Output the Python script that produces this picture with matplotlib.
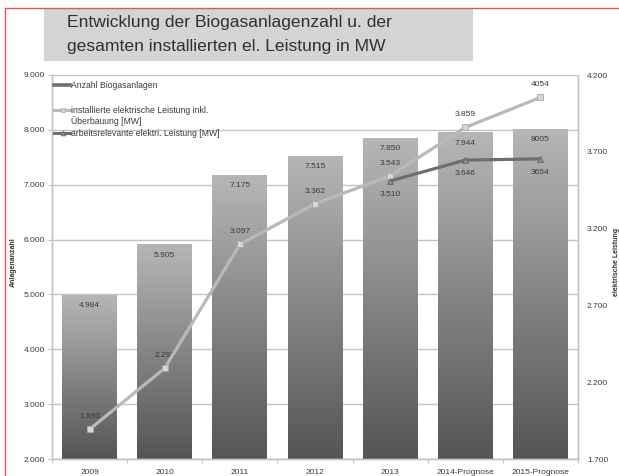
import matplotlib
matplotlib.use("Agg")
import matplotlib.pyplot as plt
import numpy as np
from matplotlib.colors import LinearSegmentedColormap
from matplotlib.lines import Line2D
from matplotlib.patches import Rectangle

plt.rcParams["font.family"] = ["Liberation Sans", "DejaVu Sans"]

# data
categories = ["2009", "2010", "2011", "2012", "2013", "2014-Prognose", "2015-Prognose"]
anlagen = [4984, 5905, 7175, 7515, 7850, 7944, 8005]
anlagen_labels = ["4.984", "5.905", "7.175", "7.515", "7.850", "7.944", "8005"]
leistung_inst = [1893, 2291, 3097, 3362, 3543, 3859, 4054]
leistung_inst_labels = ["1.893", "2.291", "3.097", "3.362", "3.543", "3.859", "4054"]
leistung_arb_idx = [4, 5, 6]
leistung_arb = [3510, 3646, 3654]
leistung_arb_labels = ["3.510", "3.646", "3654"]

left_ticks = [2000, 3000, 4000, 5000, 6000, 7000, 8000, 9000]
left_ticklabels = ["2.000", "3.000", "4.000", "5.000", "6.000", "7.000", "8.000", "9.000"]
right_ticks = [1700, 2200, 2700, 3200, 3700, 4200]
right_ticklabels = ["1.700", "2.200", "2.700", "3.200", "3.700", "4.200"]

W, H = 619, 476
TEXT = "#3a3a3a"
GRID = "#c4c4c4"


def fx(px):
    return px / W


def fy(py):
    return 1 - py / H


fig = plt.figure(figsize=(W / 100, H / 100), dpi=100)
fig.patch.set_facecolor("white")

# red frame of the scan
fig.add_artist(Line2D([fx(5), 1], [fy(7.5), fy(7.5)], color="#e8515b", lw=1.0))
fig.add_artist(Line2D([fx(5), fx(5)], [fy(7.5), 0], color="#e8515b", lw=1.0))

# title box
fig.add_artist(Rectangle((fx(44), fy(61)), fx(473) - fx(44), fy(8) - fy(61),
                         transform=fig.transFigure, facecolor="#d4d4d4", edgecolor="none"))
fig.text(fx(67), fy(22), "Entwicklung der Biogasanlagenzahl u. der", fontsize=12.6,
         color="#303030", va="center", ha="left")
fig.text(fx(67), fy(47), "gesamten installierten el. Leistung in MW", fontsize=12.6,
         color="#303030", va="center", ha="left")

ax = fig.add_axes([fx(52), fy(459), fx(578) - fx(52), fy(75) - fy(459)])
ax2 = ax.twinx()

x = np.arange(len(categories))
width = 0.73
y0 = left_ticks[0]

ax.set_axisbelow(True)
ax.yaxis.grid(True, color=GRID, lw=1.0)

# gradient bars
grad = np.linspace(0, 1, 256).reshape(-1, 1)
bar_cmap = LinearSegmentedColormap.from_list("bar", ["#555555", "#858585", "#b6b6b6"])
for xi, h, lab in zip(x, anlagen, anlagen_labels):
    ax.imshow(grad, extent=(xi - width / 2, xi + width / 2, y0, h), origin="lower",
              cmap=bar_cmap, aspect="auto", zorder=2, interpolation="bilinear")
    ax.annotate(lab, (xi, h), xytext=(0, -7.5), textcoords="offset points",
                ha="center", va="center", fontsize=6, color=TEXT, zorder=3)
ax.set_xlim(-0.5, len(categories) - 0.5)
ax.set_ylim(left_ticks[0], left_ticks[-1])
ax2.set_ylim(right_ticks[0], right_ticks[-1])

# lines on the right axis
ax2.plot(x, leistung_inst, color="#b9b9b9", lw=2.3, marker="s", markersize=5,
         markerfacecolor="#d6d6d6", markeredgecolor="#a8a8a8", markeredgewidth=0.6, zorder=4)
for xi, v, lab in zip(x, leistung_inst, leistung_inst_labels):
    ax2.annotate(lab, (xi, v), xytext=(0, 9), textcoords="offset points",
                 ha="center", va="center", fontsize=6, color=TEXT)

arb_x = x[leistung_arb_idx]
ax2.plot(arb_x, leistung_arb, color="#6e6e6e", lw=2.3, marker="^", markersize=5,
         markerfacecolor="#8c8c8c", markeredgecolor="#666666", markeredgewidth=0.6, zorder=5)
for xi, v, lab in zip(arb_x, leistung_arb, leistung_arb_labels):
    ax2.annotate(lab, (xi, v), xytext=(0, -10), textcoords="offset points",
                 ha="center", va="center", fontsize=6, color=TEXT)

# axes styling
for a in (ax, ax2):
    for side in ("left", "right", "top", "bottom"):
        a.spines[side].set_color(GRID)
        a.spines[side].set_linewidth(1.0)
    a.spines["top"].set_visible(False)

ax.set_yticks(left_ticks)
ax.set_yticklabels(left_ticklabels)
ax.tick_params(axis="y", length=3, width=0.8, color=GRID, pad=2, labelsize=6, labelcolor=TEXT)
ax.set_xticks(x)
ax.set_xticklabels(categories)
ax.tick_params(axis="x", length=0, pad=7, labelsize=6, labelcolor=TEXT)
ax.set_xticks(np.arange(len(categories) + 1) - 0.5, minor=True)
ax.tick_params(axis="x", which="minor", length=3, width=0.8, color=GRID)

ax2.set_yticks(right_ticks)
ax2.set_yticklabels(right_ticklabels)
ax2.tick_params(axis="y", length=0, pad=6.5, labelsize=6, labelcolor=TEXT)

# axis titles (the right one is cut by the page edge in the original)
fig.text(fx(13), fy(262), "Anlagenanzahl", rotation=90, fontsize=5, fontweight="bold",
         color="#333333", ha="center", va="center")
fig.text(fx(617), fy(262), "elektrische Leistung", rotation=90, fontsize=5,
         fontweight="bold", color="#333333", ha="center", va="center")

# legend, drawn by hand to keep the uneven spacing of the original
legend_items = [
    (85, ["Anzahl Biogasanlagen"], dict(color="#707070", lw=2.6)),
    (110, ["installierte elektrische Leistung inkl.", "Überbauung [MW]"],
     dict(color="#b9b9b9", lw=2.2, marker="s", markersize=3.5,
          markerfacecolor="#d6d6d6", markeredgecolor="#a8a8a8", markeredgewidth=0.5)),
    (133, ["arbeitsrelevante elektri. Leistung [MW]"],
     dict(color="#6e6e6e", lw=2.2, marker="^", markersize=3.5,
          markerfacecolor="#8c8c8c", markeredgecolor="#666666", markeredgewidth=0.5)),
]
for py, lines, style in legend_items:
    handle = Line2D([fx(54), fx(63), fx(70)], [fy(py)] * 3, markevery=[1], **style)
    fig.add_artist(handle)
    for k, line in enumerate(lines):
        fig.text(fx(71), fy(py + 11 * k), line, fontsize=6.2, color=TEXT,
                 ha="left", va="center")

fig.savefig("out.png", dpi=100)
